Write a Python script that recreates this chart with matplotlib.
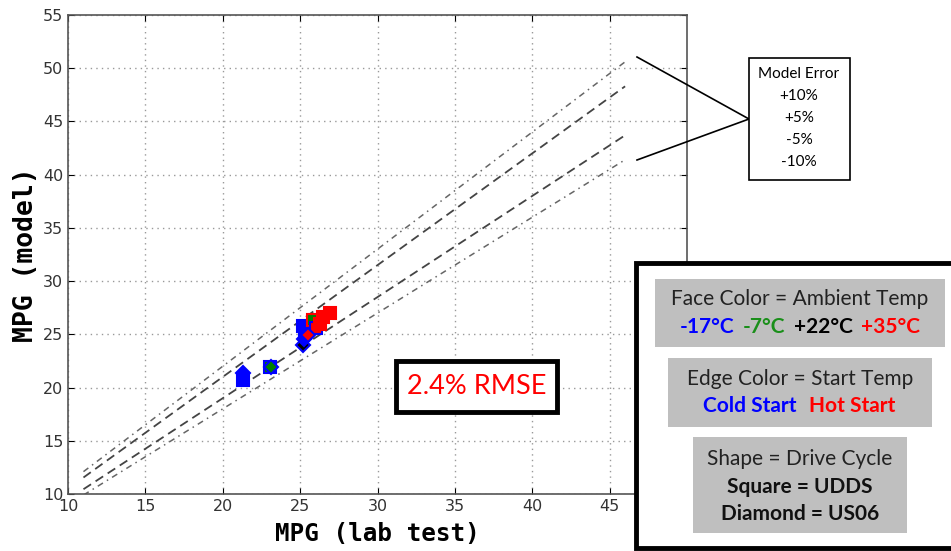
import numpy as np
import matplotlib
matplotlib.use("Agg")
import matplotlib.pyplot as plt
from matplotlib.patches import Rectangle

# lab-test MPG vs model MPG, one entry per test
lab_mpg   = [21.3, 21.3, 23.05, 23.1, 25.2, 25.25, 25.3, 25.2, 25.8, 26.0, 26.3, 26.5, 26.9, 25.5]
model_mpg = [20.7, 21.4, 21.9, 21.9, 24.0, 24.6, 25.4, 25.8, 26.3, 25.6, 26.0, 26.6, 27.0, 24.9]
face      = ['blue', 'blue', 'green', 'green', 'black', 'blue', 'blue', 'blue',
             'green', 'red', 'red', 'red', 'red', 'red']
edge      = ['blue', 'blue', 'blue', 'blue', 'blue', 'blue', 'blue', 'blue',
             'red', 'blue', 'red', 'red', 'red', 'blue']
shape     = ['s', 'D', 's', 'D', 'D', 'D', 's', 's', 's', 's', 's', 's', 's', 'D']

error_bands = [1.10, 1.05, 0.95, 0.90]
band_style  = ['-.', '--', '--', '-.']
band_x      = [11, 46]

W, H = 951, 551
fig = plt.figure(figsize=(W / 100, H / 100), dpi=100)
ax = fig.add_axes([68 / W, 1 - 494 / H, (687 - 68) / W, (494 - 15) / H])

for k, st in zip(error_bands, band_style):
    xs = np.array(band_x)
    if st == '--':
        ax.plot(xs, k * xs, color='#444444', lw=1.3, dashes=(5, 3))
    else:
        ax.plot(xs, k * xs, color='#666666', lw=1.1, dashes=(4, 3, 1, 3))

for x, y, f, e, m in zip(lab_mpg, model_mpg, face, edge, shape):
    ax.plot(x, y, marker=m, ms=9 if m == 's' else 7, mfc=f, mec=e, mew=1.5,
            linestyle='none', zorder=3)

ax.set_xlim(10, 50)
ax.set_ylim(10, 55)
ax.set_xticks(range(10, 50, 5))
ax.set_yticks(range(10, 60, 5))
ax.grid(True, linestyle=(0, (1, 3)), color='#999999', lw=1)
ax.tick_params(direction='in', top=True, right=True, labelsize=11.5,
               labelcolor='#333333', length=4)
for s in ax.spines.values():
    s.set_color('#555555')
    s.set_linewidth(1.2)
ax.set_xlabel('MPG (lab test)', family='DejaVu Sans Mono', weight='bold', size=17.5,
              labelpad=6)
ax.set_ylabel('MPG (model)', family='DejaVu Sans Mono', weight='bold', size=19,
              labelpad=3)

def px(x, y):
    return x / W, 1 - y / H

fam = 'Lato'

# RMSE label
fig.patches.append(Rectangle(px(396, 412), 161 / W, 51 / H, transform=fig.transFigure,
                             fc='white', ec='black', lw=3.5, zorder=5))
fig.text(*px(477, 386), '2.4% RMSE', color='red', size=19.5, family=fam,
         ha='center', va='center', zorder=6)

# model error callout
fig.patches.append(Rectangle(px(749, 180), 101 / W, 122 / H, transform=fig.transFigure,
                             fc='white', ec='black', lw=1.2, zorder=5))
for i, t in enumerate(['Model Error', '+10%', '+5%', '-5%', '-10%']):
    fig.text(*px(799, 74 + i * 22), t, size=11, family=fam, ha='center', va='center', zorder=6)
for y0 in (57, 160):
    fig.lines.append(plt.Line2D([637 / W, 749 / W], [1 - y0 / H, 1 - 119 / H],
                                transform=fig.transFigure, color='black', lw=1.2, zorder=5))

# legend panel
fig.patches.append(Rectangle(px(636, 548), 330 / W, 285 / H, transform=fig.transFigure,
                             fc='white', ec='black', lw=3.5, zorder=5))
for (x0, y0, x1, y1) in [(655, 279, 945, 347), (668, 358, 932, 427), (693, 437, 907, 533)]:
    fig.patches.append(Rectangle(px(x0, y1), (x1 - x0) / W, (y1 - y0) / H,
                                 transform=fig.transFigure, fc='#bfbfbf', ec='none', zorder=6))

fs = 15
fig.text(*px(800, 299), 'Face Color = Ambient Temp', size=fs, family=fam,
         ha='center', va='center', color='#222222', zorder=7)
for t, c, x in [('-17°C', 'blue', 707), ('-7°C', '#1a8f1a', 764),
                ('+22°C', 'black', 823), ('+35°C', 'red', 890)]:
    fig.text(*px(x, 327), t, size=fs, family=fam, weight='bold', color=c,
             ha='center', va='center', zorder=7)

fig.text(*px(800, 379), 'Edge Color = Start Temp', size=fs, family=fam,
         ha='center', va='center', color='#222222', zorder=7)
for t, c, x in [('Cold Start', 'blue', 750), ('Hot Start', 'red', 852)]:
    fig.text(*px(x, 406), t, size=fs, family=fam, weight='bold', color=c,
             ha='center', va='center', zorder=7)

fig.text(*px(800, 459), 'Shape = Drive Cycle', size=fs, family=fam,
         ha='center', va='center', color='#222222', zorder=7)
fig.text(*px(800, 487), 'Square = UDDS', size=fs, family=fam, weight='bold',
         ha='center', va='center', color='#111111', zorder=7)
fig.text(*px(800, 514), 'Diamond = US06', size=fs, family=fam, weight='bold',
         ha='center', va='center', color='#111111', zorder=7)

fig.savefig('out.png', dpi=100)
